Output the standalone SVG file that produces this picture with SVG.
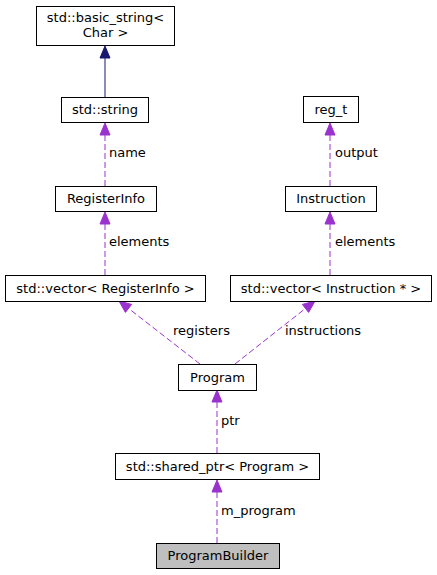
<svg xmlns="http://www.w3.org/2000/svg" width="437" height="575" viewBox="0 0 437 575">
<style>
.box{fill:#ffffff;stroke:#000000;stroke-width:1}
.cur{fill:#bfbfbf;stroke:#000000;stroke-width:1}
text{font-family:"DejaVu Sans","Liberation Sans",sans-serif;font-size:13px;fill:#000000}
.c{text-anchor:middle}
.dash{fill:none;stroke:#9a32cd;stroke-width:1;stroke-dasharray:6,3}
.solid{fill:none;stroke:#191970;stroke-width:1}
.ah{fill:#9a32cd;stroke:#9a32cd}
.ahn{fill:#191970;stroke:#191970}
</style>
<rect width="437" height="575" fill="#ffffff"/>
<g id="connectors">
  <g id="e_string_basic">
    <line class="solid" x1="105" y1="97" x2="105" y2="57"/>
    <polygon class="ahn" points="105,46 110,58 100,58"/>
  </g>
  <g id="e_reginfo_string">
    <line class="dash" x1="105" y1="186" x2="105" y2="134"/>
    <polygon class="ah" points="105,123 110,135 100,135"/>
    <text x="109" y="157">name</text>
  </g>
  <g id="e_vecreg_reginfo">
    <line class="dash" x1="105" y1="275" x2="105" y2="223"/>
    <polygon class="ah" points="105,212 110,224 100,224"/>
    <text x="109" y="246">elements</text>
  </g>
  <g id="e_instr_regt">
    <line class="dash" x1="330" y1="186" x2="330" y2="134"/>
    <polygon class="ah" points="330,123 335,135 325,135"/>
    <text x="335" y="157">output</text>
  </g>
  <g id="e_vecinstr_instr">
    <line class="dash" x1="330" y1="275" x2="330" y2="223"/>
    <polygon class="ah" points="330,212 335,224 325,224"/>
    <text x="335" y="246">elements</text>
  </g>
  <g id="e_program_vecreg">
    <line class="dash" x1="200" y1="364" x2="128" y2="308"/>
    <polygon class="ah" points="119,301 131.6,304.4 125.4,312.4"/>
    <text x="173" y="335">registers</text>
  </g>
  <g id="e_program_vecinstr">
    <line class="dash" x1="235" y1="364" x2="306" y2="308"/>
    <polygon class="ah" points="315,301 308.6,312.4 302.4,304.4"/>
    <text x="285" y="335">instructions</text>
  </g>
  <g id="e_shared_program">
    <line class="dash" x1="217" y1="453" x2="217" y2="401"/>
    <polygon class="ah" points="217,390 222,402 212,402"/>
    <text x="221" y="425">ptr</text>
  </g>
  <g id="e_builder_shared">
    <line class="dash" x1="217" y1="543" x2="217" y2="491"/>
    <polygon class="ah" points="217,480 222,492 212,492"/>
    <text x="221" y="515">m_program</text>
  </g>
</g>
<g id="node_basic_string">
  <rect class="box" x="36.5" y="6.5" width="138" height="39"/>
  <text class="c" x="105.5" y="22">std::basic_string&lt;</text>
  <text class="c" x="105.5" y="37">Char &gt;</text>
</g>
<g id="node_string">
  <rect class="box" x="61.5" y="97.5" width="87" height="25"/>
  <text class="c" x="105" y="114">std::string</text>
</g>
<g id="node_registerinfo">
  <rect class="box" x="55.5" y="186.5" width="101" height="25"/>
  <text class="c" x="106" y="203">RegisterInfo</text>
</g>
<g id="node_vec_reginfo">
  <rect class="box" x="5.5" y="275.5" width="200" height="26"/>
  <text class="c" x="105.5" y="292.5">std::vector&lt; RegisterInfo &gt;</text>
</g>
<g id="node_regt">
  <rect class="box" x="303.5" y="96.5" width="55" height="26"/>
  <text class="c" x="331" y="113.5">reg_t</text>
</g>
<g id="node_instruction">
  <rect class="box" x="285.5" y="186.5" width="91" height="25"/>
  <text class="c" x="331" y="203">Instruction</text>
</g>
<g id="node_vec_instr">
  <rect class="box" x="230.5" y="275.5" width="201" height="26"/>
  <text class="c" x="331" y="292.5">std::vector&lt; Instruction * &gt;</text>
</g>
<g id="node_program">
  <rect class="box" x="178.5" y="364.5" width="78" height="26"/>
  <text class="c" x="217.5" y="381.5">Program</text>
</g>
<g id="node_shared_ptr">
  <rect class="box" x="115.5" y="453.5" width="204" height="26"/>
  <text class="c" x="217.5" y="470.5">std::shared_ptr&lt; Program &gt;</text>
</g>
<g id="node_programbuilder">
  <rect class="cur" x="156.5" y="543.5" width="123" height="25"/>
  <text class="c" x="218" y="560">ProgramBuilder</text>
</g>
</svg>
